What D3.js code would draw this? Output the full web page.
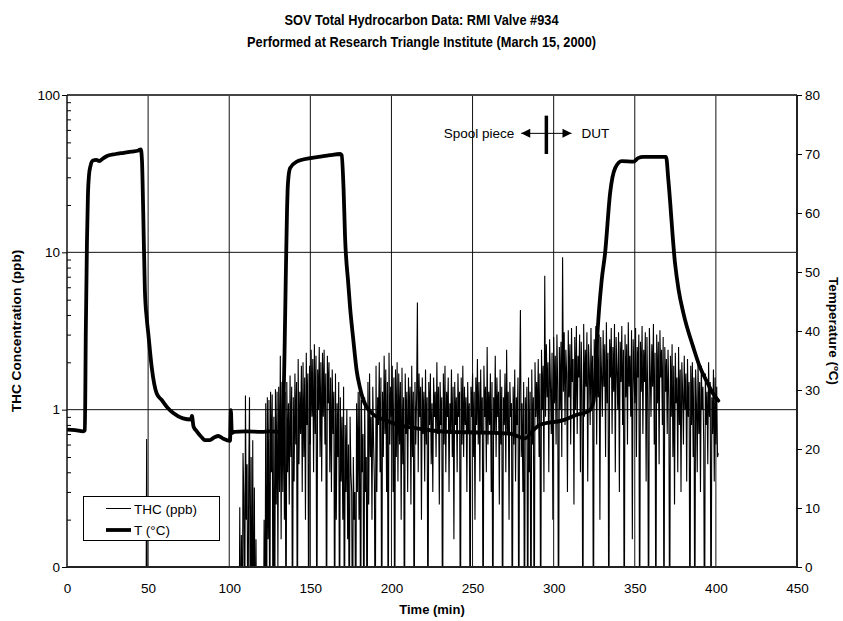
<!DOCTYPE html>
<html><head><meta charset="utf-8">
<script src="https://cdn.jsdelivr.net/npm/d3@7"></script>
<style>
body{margin:0;background:#fff}
text{font-family:Arial,"Liberation Sans",Helvetica,sans-serif;fill:#000}
</style>
</head><body>
<svg id="chart" width="843" height="621"></svg>
<script>
// ---------- DATA ----------
const titleLines = ["SOV Total Hydrocarbon Data:  RMI Valve #934",
                    "Performed at Research Triangle Institute (March 15, 2000)"];
const xTicks = [0,50,100,150,200,250,300,350,400,450];
const thcTicks = [0.1,1,10,100];
const thcTickLabels = ["0","1","10","100"];
const tempTicks = [0,10,20,30,40,50,60,70,80];

// Temperature (°C) vs time (min)
const tempTime = [0,5,10,11.0,11.6,12.3,12.9,13.6,14.5,16,18,20,22,25,30,35,40,44,45.5,46.2,47,48,49.2,50.1,52.2,55.3,58.4,62,65.5,71.5,76.5,77,78,80,83,85,88,91,93.3,96,100.5,101,101.6,103,110,120,125,132.5,
  133.5,134.2,134.8,135.6,136.2,137.5,141.6,149.8,155,162,168.3,169.3,170.5,171.4,173.4,174.5,176.5,178.6,180.5,182.7,187.8,197,204.3,215.6,236,255,273,282.4,287.5,291.6,306,314.2,322,324.5,326,327.1,329.6,331.7,334.8,337.9,342,349.2,352,355.3,369.3,370.7,374.8,377,380,386,390,394.3,398,401.5];
const tempValue = [23.3,23.2,23.0,23.2,40,55,63,66.5,68,68.9,69.0,68.8,69.2,69.7,70.0,70.2,70.4,70.6,70.8,69,60,47,42,39.6,33.9,29.4,28.3,27,26.1,25.2,25.0,25.6,23.8,23.0,22.0,21.5,21.5,22.0,22.2,21.8,21.4,26.6,22.7,22.9,23.0,22.9,23.0,22.9,
  28,38,48,60,65,67.6,68.7,69.3,69.5,69.8,70.0,69.8,64,56,48,44,38.5,33.2,30.5,28.3,26.1,24.8,24.1,23.5,22.9,22.8,22.6,21.8,23.2,24.1,24.9,25.8,26.5,28,34,40,48.6,53.2,63.4,67.6,68.8,68.7,69.3,69.5,69.5,65.6,51.5,47,43,37.3,34,31.5,29.5,28.2];

// THC (ppb) before 100 min
const thcEarlyTime = [0,48.6,49.1,49.6,99.5];
const thcEarlyValue = [0,0,0.65,0,0];
// THC (ppb) from 100 min every 0.5 min
const thcStart = 100, thcStep = 0.5;
const thcValue = [
 0,0,0,0,0,0,0,0,0,0,
 0,0,0,0.24,0,0.16,0,0.53,0.28,0,
 1.23,0.2,0.45,0,0.35,1.2,0,0.5,0,0.64,
 0,0.32,0,0.15,0,0,0,0,0,0,
 0,0,0,0.2,0,1.1,0,1.2,0.15,1.15,
 0,1.3,0.4,1.25,0,0.9,0,1.35,0.25,1.3,
 0.1,1.4,0.3,2.2,0.15,1.5,
 0.3,1.6,0.2,1.3,0,1.5,0.4,1.1,0.25,1.65,
 0.5,1.4,0,1.2,0.35,1.7,0.6,1.5,0,2.1,
 0.45,1.3,0.7,1.9,0.3,2.0,0.5,1.6,0.2,2.3,
 0.8,1.7,0,1.9,0.6,2.4,0.9,2.1,0.4,2.6,
 0.7,2.2,0,1.8,1.0,2.5,0.5,2.0,0.35,2.3,
 0.9,2.4,0.6,1.7,0,2.2,1.1,2.0,0.4,1.6,
 0.3,1.8,0.7,1.3,0,1.7,0.2,1.1,0.5,1.5,
 0,1.2,0.35,0.9,0.2,1.4,0,0.8,0.3,1.0,
 0.15,0.6,0,0.9,0.4,0.3,0,0.5,0.2,0.3,
 0,1.1,0.3,1.3,
 0.2,1.3,0,1.15,0.4,0.7,0,1.2,0.3,0.5,
 0,1.5,0.25,1.7,0.5,0.9,0.2,1.4,0.6,0.35,
 0,1.9,0.3,1.2,0.8,2.0,0.4,1.6,0,1.3,
 0.5,2.2,0.7,1.8,0.3,1.5,0,2.3,0.6,1.4,
 0.9,1.9,0.3,1.6,0,1.8,0.5,2.0,0.35,1.7,
 0.6,1.5,0.2,1.85,0.45,1.2,0,1.7,0.7,1.3,
 0.3,1.6,0.8,1.4,0.25,1.9,0.5,1.3,0,1.5,
 0.6,1.2,4.8,0.4,1.7,0.9,1.4,0.2,1.6,0.7,
 1.3,0.35,1.8,0.6,1.2,0,1.5,0.8,1.7,0.45,
 1.1,0.3,1.6,0.9,1.3,0.5,2.0,0.7,1.4,0.25,
 1.5,0.8,1.2,0,1.7,0.6,1.9,0.4,1.3,0.9,
 1.6,0.3,1.1,0.7,1.8,0.5,1.4,0.15,1.5,0.8,
 1.2,0.4,1.7,0.9,1.3,0,1.6,0.6,1.9,0.5,
 1.4,0.8,1.2,0.3,1.5,0.7,1.1,0,1.4,0.9,
 1.7,0.5,1.3,0.2,1.6,0.8,2.1,0.6,1.5,0.35,
 1.8,0.7,1.2,0,1.9,0.9,1.4,0.4,2.5,0.6,
 1.3,0.8,1.7,0.3,1.5,0,1.2,0.7,2.2,0.5,
 1.6,0.9,1.3,0.25,1.8,0.6,1.4,0,1.2,0.8,
 1.7,0.4,2.4,0.7,1.3,0.2,1.5,0.9,1.1,0,
 1.4,0.6,1.8,0.35,1.2,0.8,1.6,0,1.3,4.3,
 0.5,1.1,0.3,1.5,0,1.2,0.7,1.4,0,1.6,
 0.4,1.3,0,1.8,0.6,1.2,0,2.0,0.9,1.5,
 0.8,2.1,0.5,1.7,0,2.4,1.0,1.9,0.3,7.1,
 0.9,2.6,1.2,2.0,0.4,2.8,1.5,0.7,2.3,0.2,
 2.9,1.1,2.2,0.6,3.0,1.4,0,2.5,1.0,2.7,
 0.5,9.3,1.3,3.1,0.8,2.4,1.7,0.3,3.2,1.2,
 2.6,0.6,3.3,1.5,2.1,0.25,2.9,1.0,3.4,0.7,
 2.2,1.6,3.0,0.4,2.7,1.3,0,3.5,0.9,2.4,
 1.4,3.1,0.35,2.6,1.8,0.8,3.3,1.1,2.2,0,
 2.8,1.5,3.4,0.6,2.5,1.2,3.0,0.2,2.9,1.7,
 0.9,3.2,1.4,2.6,0.5,3.6,1.1,2.3,0,2.8,
 1.6,3.3,0.7,2.5,1.3,3.5,0.4,2.9,1.8,1.0,
 3.1,0.3,2.7,1.5,3.4,0.8,2.4,0,3.0,1.2,
 2.6,0.6,3.6,1.4,2.2,0.9,3.2,0.15,2.8,1.7,
 1.1,3.3,0.5,2.5,1.6,3.0,0,2.7,1.3,3.4,
 0.7,2.4,1.5,3.1,0.35,2.9,1.2,0,3.3,1.8,
 0.9,2.6,1.4,3.5,0.6,2.3,0,3.0,1.1,2.7,
 0.45,3.2,1.6,2.4,0.8,2.9,0,2.5,1.3,2.1,
 0.7,2.4,1.2,0,2.2,0.9,2.6,0.5,1.9,0.25,
 2.3,1.1,1.6,0.4,2.5,0.8,1.8,0.3,2.0,1.3,
 0.6,2.2,1.0,1.7,0.35,2.1,0.9,1.5,0,1.9,
 0.8,2.0,0.5,1.6,0,1.8,1.1,0.4,2.1,0.7,
 1.5,0.3,1.9,1.0,1.4,0.6,0,1.7,0.8,1.3,
 0.45,2.0,0.9,1.5,0,1.2,0.7,1.8,0.35,1.6,
 0.6,1.4,0.5,0.53
];

const legendLabels = ["THC (ppb)", "T (\u00B0C)"];
const annotLeft = "Spool piece", annotRight = "DUT";
const annotTime = 295.5, annotTemp = 73.5;

// ---------- CHART ----------
const W = 843, H = 621;
const m = {left: 67, right: 797, top: 95, bottom: 567};
const svg = d3.select("#chart");

const x = d3.scaleLinear().domain([0,450]).range([m.left, m.right]);
const yL = d3.scaleLog().domain([0.1,100]).range([m.bottom, m.top]);
const yR = d3.scaleLinear().domain([0,80]).range([m.bottom, m.top]);

// titles
svg.selectAll("text.title").data(titleLines).enter().append("text")
  .attr("class","title")
  .attr("transform",(d,i)=>`translate(${W/2},${25 + i*22}) scale(1,1.12)`)
  .attr("text-anchor","middle").style("font-weight","bold").style("font-size","12.8px")
  .text(d=>d);

// grid
const grid = svg.append("g");
grid.selectAll("line.v").data(xTicks.filter(d=>d>0 && d<450)).enter().append("line")
  .attr("x1",d=>x(d)).attr("x2",d=>x(d)).attr("y1",m.top).attr("y2",m.bottom)
  .attr("stroke","#111").attr("stroke-width",1);
grid.selectAll("line.h").data(thcTicks.filter(d=>d>0.1 && d<100)).enter().append("line")
  .attr("y1",d=>yL(d)).attr("y2",d=>yL(d)).attr("x1",m.left).attr("x2",m.right)
  .attr("stroke","#111").attr("stroke-width",1);

// clip
svg.append("clipPath").attr("id","plotclip").append("rect")
  .attr("x",m.left).attr("y",m.top).attr("width",m.right-m.left).attr("height",m.bottom-m.top);

// THC series
const thcData = thcEarlyTime.map((t,i)=>({t, v: thcEarlyValue[i]}))
  .concat(thcValue.map((v,i)=>({t: thcStart + i*thcStep, v})));
const thcLine = d3.line().x(d=>x(d.t)).y(d=>yL(Math.max(d.v,0.02)));
svg.append("path").datum(thcData).attr("clip-path","url(#plotclip)")
  .attr("d",thcLine).attr("fill","none").attr("stroke","#000").attr("stroke-width",1.1);

// Temperature series
const tData = tempTime.map((t,i)=>({t, v: tempValue[i]}));
const tLine = d3.line().x(d=>x(d.t)).y(d=>yR(d.v)).curve(d3.curveMonotoneX);
svg.append("path").datum(tData).attr("clip-path","url(#plotclip)")
  .attr("d",tLine).attr("fill","none").attr("stroke","#000").attr("stroke-width",3.8)
  .attr("stroke-linejoin","round").attr("stroke-linecap","round");

// frame
const frame = svg.append("g");
frame.append("line").attr("x1",m.left).attr("x2",m.right).attr("y1",m.top).attr("y2",m.top).attr("stroke","#444").attr("stroke-width",2);
frame.append("line").attr("x1",m.left).attr("x2",m.right).attr("y1",m.bottom).attr("y2",m.bottom).attr("stroke","#222").attr("stroke-width",2);
frame.append("line").attr("x1",m.left).attr("x2",m.left).attr("y1",m.top).attr("y2",m.bottom).attr("stroke","#111").attr("stroke-width",1.5);
frame.append("line").attr("x1",m.right).attr("x2",m.right).attr("y1",m.top).attr("y2",m.bottom).attr("stroke","#222").attr("stroke-width",2);

// axes
const fs = "13.5px";
const axL = svg.append("g").attr("transform",`translate(${m.left},0)`)
  .call(d3.axisLeft(yL).tickValues(thcTicks).tickFormat((d,i)=>thcTickLabels[i]).tickSize(5).tickPadding(2));
const minor = yL.ticks().filter(d => thcTicks.indexOf(d) < 0);
const axLm = svg.append("g").attr("transform",`translate(${m.left},0)`)
  .call(d3.axisRight(yL).tickValues(minor).tickFormat("").tickSize(4));
const axR = svg.append("g").attr("transform",`translate(${m.right},0)`)
  .call(d3.axisRight(yR).tickValues(tempTicks).tickSize(5).tickPadding(3));
const axB = svg.append("g").attr("transform",`translate(0,${m.bottom})`)
  .call(d3.axisBottom(x).tickValues(xTicks).tickSize(0).tickPadding(16));
[axL,axLm,axR,axB].forEach(g=>{
  g.select(".domain").remove();
  g.selectAll("text").style("font-size",fs).style("font-family","Arial, 'Liberation Sans', sans-serif").attr("fill","#000");
  g.selectAll("line").attr("stroke","#000");
});

// axis titles
svg.append("text").attr("x",(m.left+m.right)/2).attr("y",614)
  .attr("text-anchor","middle").style("font-weight","bold").style("font-size","13px").text("Time (min)");
svg.append("text").attr("transform",`translate(21,${(m.top+m.bottom)/2}) rotate(-90)`)
  .attr("text-anchor","middle").style("font-weight","bold").style("font-size","13.7px").text("THC Concentration (ppb)");
svg.append("text").attr("transform",`translate(829,${(m.top+m.bottom)/2}) rotate(90)`)
  .attr("text-anchor","middle").style("font-weight","bold").style("font-size","13.5px").text("Temperature (\u00BAC)");

// legend
const lg = svg.append("g");
lg.append("rect").attr("x",83.5).attr("y",496.5).attr("width",136).attr("height",44)
  .attr("fill","#fff").attr("stroke","#000").attr("stroke-width",1);
const lgW = [1,3.8];
legendLabels.forEach((lab,i)=>{
  const yy = 508.5 + i*21.5;
  lg.append("line").attr("x1",106).attr("x2",131).attr("y1",yy).attr("y2",yy)
    .attr("stroke","#000").attr("stroke-width",lgW[i]);
  lg.append("text").attr("x",134).attr("y",yy+5).style("font-size",fs).text(lab);
});

// annotation
const ax0 = x(annotTime), ay = yR(annotTemp);
const an = svg.append("g");
an.append("line").attr("x1",x(280)).attr("x2",x(311)).attr("y1",ay).attr("y2",ay)
  .attr("stroke","#000").attr("stroke-width",1);
an.append("path").attr("d",`M${x(280)},${ay} l9,-4.5 l0,9 Z`).attr("fill","#000");
an.append("path").attr("d",`M${x(311)},${ay} l-9,-4.5 l0,9 Z`).attr("fill","#000");
an.append("line").attr("x1",ax0).attr("x2",ax0).attr("y1",yR(76.5)).attr("y2",yR(70))
  .attr("stroke","#000").attr("stroke-width",3.5);
an.append("text").attr("x",x(280)-7).attr("y",ay+5).attr("text-anchor","end").style("font-size",fs).text(annotLeft);
an.append("text").attr("x",x(311)+10).attr("y",ay+5).style("font-size",fs).text(annotRight);
</script>
</body></html>
